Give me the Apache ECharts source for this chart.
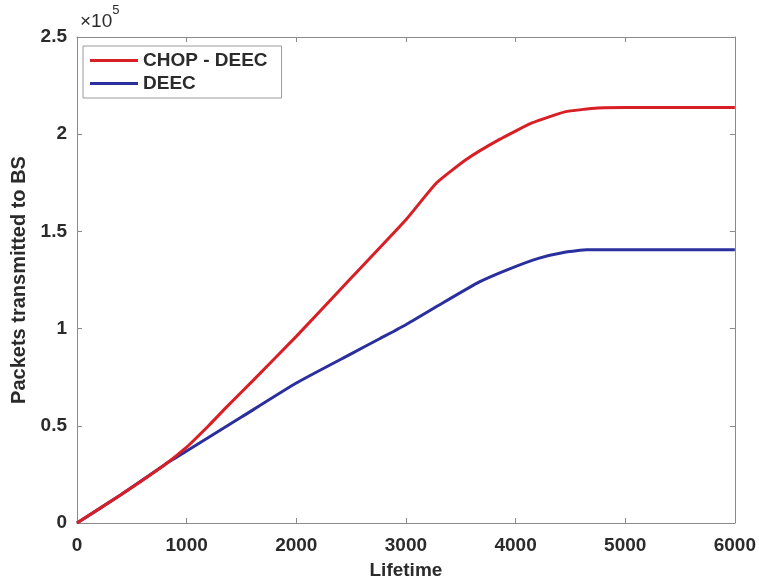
<!DOCTYPE html>
<html><head><meta charset="utf-8">
<script src="https://cdn.jsdelivr.net/npm/echarts@6/dist/echarts.min.js"></script>
<style>html,body{margin:0;padding:0;background:#fff}#c{width:759px;height:585px}</style>
</head><body><div id="c"></div>
<script>
const seriesNames = ['CHOP - DEEC', 'DEEC'];
const chopX = [0, 400, 800, 1000, 1200, 1370, 1600, 2000, 2500, 3000, 3280, 3550, 3850, 4150, 4450, 4750, 5000, 6000];
const chopY = [0, 0.145, 0.30, 0.39, 0.50, 0.60, 0.73, 0.96, 1.26, 1.56, 1.75, 1.87, 1.972, 2.058, 2.115, 2.135, 2.137, 2.137];
const deecX = [0, 400, 800, 1000, 1500, 2000, 2500, 2760, 3000, 3300, 3670, 3940, 4200, 4460, 4650, 6000];
const deecY = [0, 0.145, 0.30, 0.37, 0.545, 0.72, 0.87, 0.948, 1.02, 1.12, 1.24, 1.306, 1.36, 1.394, 1.405, 1.405];
const scale = 1e5;
const xTicks = [0, 1000, 2000, 3000, 4000, 5000, 6000];
const yTicks = [0, 0.5, 1, 1.5, 2, 2.5];
const xLabel = 'Lifetime';
const yLabel = 'Packets transmitted to BS';

const font = 'Liberation Sans, Arial, sans-serif';
const txt = '#2b2b2b';
const axisGray = '#8a8a8a';
const chart = echarts.init(document.getElementById('c'), null, {renderer: 'canvas'});
const pair = (xs, ys) => xs.map((x, i) => [x, ys[i] * scale]);
const baseAxis = () => ({
  axisLine: {show: true, onZero: false, lineStyle: {color: axisGray, width: 1}},
  axisTick: {show: true, inside: true, length: 5, lineStyle: {color: axisGray}},
  splitLine: {show: false}
});
chart.setOption({
  animation: false,
  grid: {left: 77, right: 23, top: 37, bottom: 60, show: false},
  legend: {
    data: seriesNames.map(n => ({name: n, icon: 'rect'})),
    orient: 'vertical',
    left: 83, top: 46,
    itemWidth: 48, itemHeight: 3, itemGap: 4,
    padding: [5, 14, 5, 7],
    borderColor: '#9a9a9a', borderWidth: 1, borderRadius: 0,
    backgroundColor: '#fff',
    textStyle: {fontFamily: font, fontWeight: 'bold', fontSize: 19, color: txt}
  },
  xAxis: [{
    ...baseAxis(), type: 'value', min: 0, max: 6000, interval: 1000,
    name: xLabel, nameLocation: 'middle', nameGap: 38,
    nameTextStyle: {fontFamily: font, fontWeight: 'bold', fontSize: 19, color: txt},
    axisLabel: {fontFamily: font, fontWeight: 'bold', fontSize: 19, color: txt, margin: 13,
      formatter: v => xTicks.includes(v) ? String(v) : ''}
  }, {
    ...baseAxis(), type: 'value', position: 'top', min: 0, max: 6000, interval: 1000,
    axisLabel: {show: false}
  }],
  yAxis: [{
    ...baseAxis(), type: 'value', min: 0, max: 2.5 * scale, interval: 0.5 * scale,
    name: yLabel, nameLocation: 'middle', nameGap: 44, nameRotate: 90,
    nameTextStyle: {fontFamily: font, fontWeight: 'bold', fontSize: 20, color: txt},
    axisLabel: {fontFamily: font, fontWeight: 'bold', fontSize: 19, color: txt, margin: 10,
      formatter: v => { const t = v / scale; return yTicks.some(y => Math.abs(y - t) < 1e-9) ? String(t) : ''; }}
  }, {
    ...baseAxis(), type: 'value', position: 'right', min: 0, max: 2.5 * scale, interval: 0.5 * scale,
    axisLabel: {show: false}
  }],
  graphic: [{
    type: 'text', left: 80, top: 4,
    style: {
      text: '{a|×10}{b|5}',
      rich: {
        a: {fontFamily: font, fontSize: 19, fill: txt, verticalAlign: 'bottom', padding: [8, 0, 0, 0]},
        b: {fontFamily: font, fontSize: 13, fill: txt, verticalAlign: 'top'}
      }
    }
  }],
  series: [{
    name: seriesNames[0], type: 'line', data: pair(chopX, chopY), smooth: 0.15,
    symbol: 'none', lineStyle: {color: '#d81f26', width: 3}, itemStyle: {color: '#d81f26'}, z: 3
  }, {
    name: seriesNames[1], type: 'line', data: pair(deecX, deecY), smooth: 0.15,
    symbol: 'none', lineStyle: {color: '#2a2f9e', width: 3}, itemStyle: {color: '#2a2f9e'}, z: 2
  }]
});
</script></body></html>
